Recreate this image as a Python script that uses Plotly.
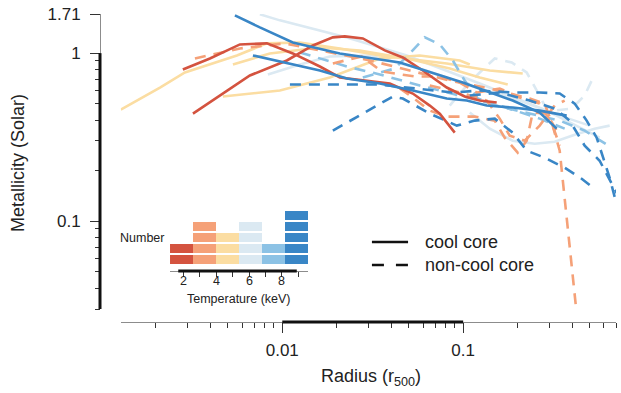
import math
import plotly.graph_objects as go

# ---------------- colours per temperature bin ----------------
c_red, c_org, c_yel, c_pale, c_mid, c_blue = "#d4533f", "#f5a178", "#fbdda2", "#dbe9f2", "#8cc2e5", "#3986c6"

# ---------------- inset: temperature histogram ----------------
bin_left = [1.2, 2.6, 4.0, 5.4, 6.8, 8.2]
bin_width = 1.4
bin_counts = [2, 4, 3, 4, 2, 5]
bin_colors = [c_red, c_org, c_yel, c_pale, c_mid, c_blue]

# ---------------- metallicity profiles (radius in r500, Z in solar) ----------------
ra_r = [0.00282, 0.00398, 0.00583, 0.00822, 0.01144, 0.01614, 0.0208, 0.02788, 0.03931, 0.05266, 0.06539, 0.07424, 0.08987]
ra_z = [0.799, 0.9297, 1.127, 1.143, 0.996, 0.8329, 0.7162, 0.6873, 0.6596, 0.575, 0.4875, 0.4367, 0.3363]
rb_r = [0.003207, 0.006622, 0.0106, 0.01476, 0.01904, 0.02218, 0.02788, 0.03688, 0.04638, 0.05981, 0.08117, 0.102, 0.1235, 0.1533]
rb_z = [0.4367, 0.7361, 0.9046, 1.111, 1.241, 1.258, 1.224, 1.038, 0.9426, 0.7884, 0.6243, 0.5518, 0.5222, 0.5081]

o1_r = [0.003289, 0.005831, 0.01034, 0.01614, 0.03048, 0.0507, 0.08433, 0.1403, 0.2333, 0.2824, 0.3126, 0.3418, 0.3642, 0.3882, 0.419]
o1_z = [0.9297, 1.067, 1.143, 1.038, 0.9046, 0.7884, 0.6873, 0.6158, 0.5368, 0.501, 0.3704, 0.2627, 0.1321, 0.0665, 0.032]
o2_r = [0.01904, 0.02753, 0.03549, 0.05403, 0.07424, 0.09576, 0.1189, 0.1593, 0.2055, 0.265, 0.3126, 0.3418]
o2_z = [0.868, 0.9557, 0.7777, 0.7261, 0.7261, 0.6687, 0.5829, 0.6158, 0.5442, 0.501, 0.3704, 0.2813]
o3_r = [0.04465, 0.05266, 0.06539, 0.08117, 0.1159, 0.1495, 0.1697, 0.2003, 0.2246, 0.2424, 0.2897, 0.3289]
o3_z = [0.6158, 0.5442, 0.455, 0.4191, 0.4191, 0.3967, 0.314, 0.2556, 0.3013, 0.4428, 0.4367, 0.3457]
o4_r = [0.06539, 0.09576, 0.135, 0.1593, 0.1809, 0.2189, 0.265, 0.3207, 0.3642]
o4_z = [0.6417, 0.5829, 0.5222, 0.4077, 0.3227, 0.3013, 0.3704, 0.4875, 0.5222]

y1_r = [0.00128, 0.002108, 0.002896, 0.005612, 0.008222, 0.01251, 0.0208, 0.03462, 0.08117, 0.1403, 0.2135]
y1_z = [0.4614, 0.6243, 0.7671, 0.969, 1.143, 1.158, 1.067, 0.969, 0.868, 0.7884, 0.7567]
y2_r = [0.005334, 0.008542, 0.01614, 0.02684, 0.0488, 0.08433, 0.1235, 0.1764]
y2_z = [0.856, 0.996, 1.081, 1.038, 0.9297, 0.8103, 0.7162, 0.6505]
y3_r = [0.004695, 0.0097, 0.01832, 0.03462, 0.05757, 0.09576, 0.1088]
y3_z = [0.5518, 0.5991, 0.7162, 0.9297, 0.969, 0.9046, 0.856]

p1_r = [0.007518, 0.0097, 0.02275, 0.0488, 0.1235, 0.2897, 0.5685]
p1_z = [1.702, 1.567, 1.241, 0.969, 0.6596, 0.455, 0.314]
p2_r = [0.008326, 0.01251, 0.01832, 0.03048, 0.05757, 0.1088, 0.2055, 0.3418, 0.5007]
p2_z = [0.7463, 0.856, 0.9557, 0.969, 0.8103, 0.6417, 0.5222, 0.4248, 0.3704]
p3_r = [0.08433, 0.1047, 0.1235, 0.1495, 0.1856, 0.2246, 0.2518, 0.2824, 0.3207, 0.3981, 0.4698, 0.52]
p3_z = [0.4875, 0.6417, 0.7671, 0.9297, 0.88, 0.7671, 0.6158, 0.4875, 0.455, 0.4678, 0.5594, 0.7063]
p4_r = [0.1088, 0.1403, 0.1879, 0.2486, 0.3207, 0.4137, 0.5335, 0.6457]
p4_z = [0.4428, 0.3553, 0.3013, 0.2892, 0.2972, 0.3272, 0.3553, 0.3704]

m1_r = [0.02788, 0.04191, 0.0507, 0.06135, 0.07424, 0.08762, 0.102, 0.1204, 0.1593, 0.2333, 0.3418, 0.4698, 0.6622]
m1_z = [0.7162, 0.8103, 0.996, 1.241, 1.127, 0.9046, 0.6873, 0.5368, 0.4808, 0.4367, 0.3967, 0.3457, 0.2738]
m2_r = [0.01251, 0.01614, 0.02275, 0.03462, 0.05757, 0.09576, 0.1593, 0.265, 0.3642]
m2_z = [1.01, 0.9297, 0.8329, 0.7463, 0.6417, 0.5594, 0.4875, 0.4077, 0.3553]

b1_r = [0.005471, 0.007518, 0.01144, 0.0208, 0.04465, 0.0995, 0.1879, 0.265, 0.3289]
b1_z = [1.679, 1.423, 1.158, 0.996, 0.88, 0.6687, 0.5222, 0.4428, 0.3553]
b2_r = [0.006881, 0.01102, 0.01614, 0.02275, 0.03462, 0.05266, 0.08117, 0.1047, 0.135, 0.1879, 0.265, 0.3737]
b2_z = [0.969, 0.868, 0.7884, 0.7063, 0.6596, 0.5991, 0.5368, 0.5222, 0.4875, 0.4743, 0.455, 0.4248]
b3_r = [0.01102, 0.01832, 0.03462, 0.06135, 0.08762, 0.1235, 0.1879, 0.265, 0.3418, 0.4137, 0.482, 0.5472, 0.5906, 0.6457, 0.6969]
b3_z = [0.6505, 0.6505, 0.6505, 0.6073, 0.5829, 0.5991, 0.5829, 0.5829, 0.575, 0.501, 0.3967, 0.314, 0.2453, 0.1813, 0.1321]
b4_r = [0.01904, 0.03167, 0.04085, 0.04638, 0.06539, 0.09218, 0.1159, 0.1495, 0.1879, 0.2246, 0.2824, 0.3642, 0.4522, 0.5335]
b4_z = [0.3457, 0.4743, 0.5518, 0.5368, 0.4367, 0.3704, 0.3967, 0.4077, 0.3363, 0.2627, 0.2385, 0.208, 0.1788, 0.1558]
b5_r = [0.1088, 0.1593, 0.2333, 0.3207, 0.3882, 0.4698, 0.5685, 0.6622, 0.72]
b5_z = [0.5594, 0.5829, 0.5222, 0.4678, 0.3967, 0.2813, 0.2289, 0.1693, 0.1416]

# (radius, metallicity, colour, cool core?)
profiles = [
    (p1_r, p1_z, c_pale, True), (p2_r, p2_z, c_pale, True), (p3_r, p3_z, c_pale, False), (p4_r, p4_z, c_pale, True),
    (y1_r, y1_z, c_yel, True), (y2_r, y2_z, c_yel, True), (y3_r, y3_z, c_yel, True),
    (m1_r, m1_z, c_mid, False), (m2_r, m2_z, c_mid, False),
    (o1_r, o1_z, c_org, False), (o2_r, o2_z, c_org, False), (o3_r, o3_z, c_org, False), (o4_r, o4_z, c_org, False),
    (b3_r, b3_z, c_blue, False), (b4_r, b4_z, c_blue, False), (b5_r, b5_z, c_blue, False),
    (ra_r, ra_z, c_red, True), (rb_r, rb_z, c_red, True),
    (b1_r, b1_z, c_blue, True), (b2_r, b2_z, c_blue, True),
]

# axis ticks
x_major = [0.01, 0.1]
x_major_text = ["0.01", "0.1"]
x_minor = [0.002, 0.003, 0.004, 0.005, 0.006, 0.007, 0.008, 0.009,
           0.02, 0.03, 0.04, 0.05, 0.06, 0.07, 0.08, 0.09,
           0.2, 0.3, 0.4, 0.5, 0.6, 0.7]
y_major = [0.1, 1, 1.71]
y_major_text = ["0.1", "1", "1.71"]
y_minor = [0.03, 0.04, 0.05, 0.06, 0.07, 0.08, 0.09, 0.2, 0.3, 0.4, 0.5, 0.6, 0.7, 0.8, 0.9]
t_major = [2, 4, 6, 8]
t_minor = [3, 5, 7, 9]

FONT = "Liberation Sans, Arial, Helvetica, sans-serif"
DASH = "11px,8px"

fig = go.Figure()
for r, z, col, cc in profiles:
    fig.add_trace(go.Scatter(x=r, y=z, mode="lines", hoverinfo="skip",
                             line=dict(color=col, width=2.6, dash="solid" if cc else DASH)))

# inset stacked blocks
max_n = max(bin_counts)
for k in range(max_n):
    xs = [l + bin_width / 2 for l, n in zip(bin_left, bin_counts) if n > k]
    cs = [c for c, n in zip(bin_colors, bin_counts) if n > k]
    fig.add_trace(go.Bar(x=xs, y=[0.8] * len(xs), base=[k] * len(xs), width=bin_width,
                         marker=dict(color=cs, line=dict(width=0)),
                         xaxis="x2", yaxis="y2", hoverinfo="skip"))

tick_col = "#333333"
fig.update_layout(
    width=621, height=393, margin=dict(l=100, r=5, t=14, b=71),
    paper_bgcolor="white", plot_bgcolor="white", showlegend=False,
    font=dict(family=FONT, color="#222222"), bargap=0, barmode="overlay",
    xaxis=dict(type="log", range=[math.log10(0.00128), math.log10(0.7)], domain=[0.0403, 1],
               anchor="free", position=0, showline=True, linecolor="#8c8c8c", linewidth=1,
               ticks="outside", ticklen=10, tickwidth=1, tickcolor=tick_col,
               tickvals=x_major, ticktext=x_major_text, tickfont=dict(size=17),
               ticklabelstandoff=3,
               showgrid=False, zeroline=False,
               minor=dict(tickvals=x_minor, ticks="outside", ticklen=5, tickcolor=tick_col, showgrid=False)),
    yaxis=dict(type="log", range=[math.log10(0.03), math.log10(1.71)], domain=[0.0422, 1],
               anchor="free", position=0, showline=True, linecolor="#8c8c8c", linewidth=1,
               ticks="outside", ticklen=10, tickwidth=1, tickcolor=tick_col,
               tickvals=y_major, ticktext=y_major_text, tickfont=dict(size=17),
               ticklabelstandoff=6,
               showgrid=False, zeroline=False,
               minor=dict(tickvals=y_minor, ticks="outside", ticklen=5, tickcolor=tick_col, showgrid=False)),
    xaxis2=dict(range=[1.2, 9.6], domain=[0.1357, 0.4037], anchor="free", position=0.1656,
                showline=True, linecolor="#8c8c8c", linewidth=1, ticks="outside", ticklen=5,
                tickcolor=tick_col, tickvals=t_major, showticklabels=False,
                minor=dict(tickvals=t_minor, ticks="outside", ticklen=5, tickcolor=tick_col, showgrid=False),
                showgrid=False, zeroline=False),
    yaxis2=dict(range=[0, 5], domain=[0.1883, 0.3669], anchor="x2", visible=False),
)

# range-frame thick segments
fig.add_shape(type="line", xref="x", yref="paper", x0=0.01, x1=0.1, y0=0, y1=0,
              line=dict(color="#111111", width=3))
fig.add_shape(type="line", xref="paper", yref="y", x0=0, x1=0, y0=0.03, y1=1,
              line=dict(color="#111111", width=3))
fig.add_shape(type="line", xref="x2", yref="paper", x0=1.7, x1=8.9, y0=0.1656, y1=0.1656,
              line=dict(color="#111111", width=3))

# inset tick labels
for t in t_major:
    fig.add_annotation(text=str(t), xref="x2", yref="paper", x=t, y=0.134,
                       xanchor="center", yanchor="middle", showarrow=False, font=dict(size=12.5))

# legend for line style
fig.add_shape(type="line", xref="paper", yref="paper", x0=0.527, x1=0.597, y0=0.2597, y1=0.2597,
              line=dict(color="#111111", width=2.6))
fig.add_shape(type="line", xref="paper", yref="paper", x0=0.527, x1=0.597, y0=0.185, y1=0.185,
              line=dict(color="#111111", width=2.6, dash="12px,12px"))
fig.add_annotation(text="cool core", xref="paper", yref="paper", x=0.626, y=0.2597,
                   xanchor="left", yanchor="middle", showarrow=False, font=dict(size=18))
fig.add_annotation(text="non-cool core", xref="paper", yref="paper", x=0.626, y=0.185,
                   xanchor="left", yanchor="middle", showarrow=False, font=dict(size=18))

# inset labels
fig.add_annotation(text="Number", xref="paper", yref="paper", x=0.0814, y=0.2727,
                   xanchor="center", yanchor="middle", showarrow=False, font=dict(size=12.5))
fig.add_annotation(text="Temperature (keV)", xref="paper", yref="paper", x=0.2688, y=0.0747,
                   xanchor="center", yanchor="middle", showarrow=False, font=dict(size=12.5))

# axis titles
fig.add_annotation(text="Metallicity (Solar)", xref="paper", yref="paper", x=-0.159, y=0.516,
                   xanchor="center", yanchor="middle", textangle=-90, showarrow=False, font=dict(size=18))
fig.add_annotation(text="Radius (r<sub>500</sub>)", xref="paper", yref="paper", x=0.525, y=-0.1818,
                   xanchor="center", yanchor="middle", showarrow=False, font=dict(size=18))

fig.write_html("out.html")
